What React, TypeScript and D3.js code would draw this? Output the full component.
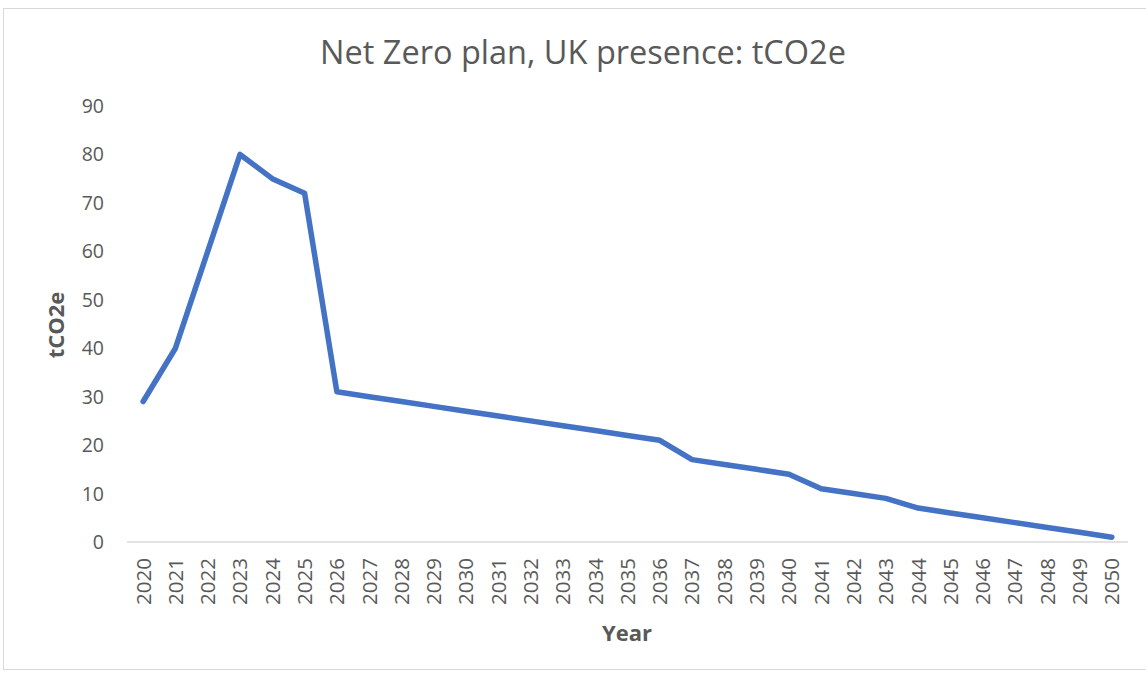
import React, { useEffect, useRef } from "react";
import * as d3 from "d3";

const years = [
  "2020", "2021", "2022", "2023", "2024", "2025", "2026", "2027", "2028", "2029",
  "2030", "2031", "2032", "2033", "2034", "2035", "2036", "2037", "2038", "2039",
  "2040", "2041", "2042", "2043", "2044", "2045", "2046", "2047", "2048", "2049",
  "2050",
];
const emissions = [
  29, 40, 60, 80, 75, 72, 31, 30, 29, 28,
  27, 26, 25, 24, 23, 22, 21, 17, 16, 15,
  14, 11, 10, 9, 7, 6, 5, 4, 3, 2,
  1,
];
const yTicks = [0, 10, 20, 30, 40, 50, 60, 70, 80, 90];

const App: React.FC = () => {
  const svgRef = useRef<SVGSVGElement>(null);

  useEffect(() => {
    if (!svgRef.current) return;
    const svg = d3.select(svgRef.current);
    svg.selectAll("*").remove();

    const width = 1146;
    const height = 675;
    const font = "'Open Sans', sans-serif";
    const grey = "#595959";

    // chart frame
    svg
      .append("rect")
      .attr("x", 3.5)
      .attr("y", 8.5)
      .attr("width", 1160)
      .attr("height", 661)
      .attr("fill", "white")
      .attr("stroke", "#d9d9d9")
      .attr("stroke-width", 1);

    const x = d3.scaleBand().domain(years).range([127, 1128]);
    const y = d3.scaleLinear().domain([0, 90]).range([542, 106]);

    svg
      .append("text")
      .attr("x", 583)
      .attr("y", 64)
      .attr("text-anchor", "middle")
      .attr("font-family", font)
      .attr("font-size", 32.5)
      .attr("fill", grey)
      .text("Net Zero plan, UK presence: tCO2e");

    // y tick labels
    svg
      .append("g")
      .selectAll("text")
      .data(yTicks)
      .join("text")
      .attr("x", 104)
      .attr("y", (d) => y(d))
      .attr("dy", "0.36em")
      .attr("text-anchor", "end")
      .attr("font-family", font)
      .attr("font-size", 19.5)
      .attr("fill", grey)
      .text((d) => d);

    // category axis line
    svg
      .append("line")
      .attr("x1", 127)
      .attr("x2", 1128)
      .attr("y1", y(0))
      .attr("y2", y(0))
      .attr("stroke", "#d9d9d9")
      .attr("stroke-width", 1.5);

    // x tick labels, rotated
    svg
      .append("g")
      .selectAll("text")
      .data(years)
      .join("text")
      .attr("transform", (d) => {
        const cx = (x(d) as number) + x.bandwidth() / 2;
        return `translate(${cx},558) rotate(-90)`;
      })
      .attr("dy", "0.36em")
      .attr("text-anchor", "end")
      .attr("font-family", font)
      .attr("font-size", 20.5)
      .attr("fill", grey)
      .text((d) => d);

    // axis titles
    svg
      .append("text")
      .attr("transform", "translate(64,325) rotate(-90)")
      .attr("text-anchor", "middle")
      .attr("font-family", font)
      .attr("font-size", 22)
      .attr("font-weight", "bold")
      .attr("fill", grey)
      .text("tCO2e");

    svg
      .append("text")
      .attr("x", 627)
      .attr("y", 641)
      .attr("text-anchor", "middle")
      .attr("font-family", font)
      .attr("font-size", 22)
      .attr("font-weight", "bold")
      .attr("fill", grey)
      .text("Year");

    const line = d3
      .line<number>()
      .x((_, i) => (x(years[i]) as number) + x.bandwidth() / 2)
      .y((d) => y(d));

    svg
      .append("path")
      .datum(emissions)
      .attr("d", line)
      .attr("fill", "none")
      .attr("stroke", "#4472C4")
      .attr("stroke-width", 5.5)
      .attr("stroke-linejoin", "round")
      .attr("stroke-linecap", "round");

    svg.attr("width", width).attr("height", height);
  }, []);

  return (
    <svg
      ref={svgRef}
      style={{ position: "absolute", left: 0, top: 0, display: "block" }}
    />
  );
};

export default App;
